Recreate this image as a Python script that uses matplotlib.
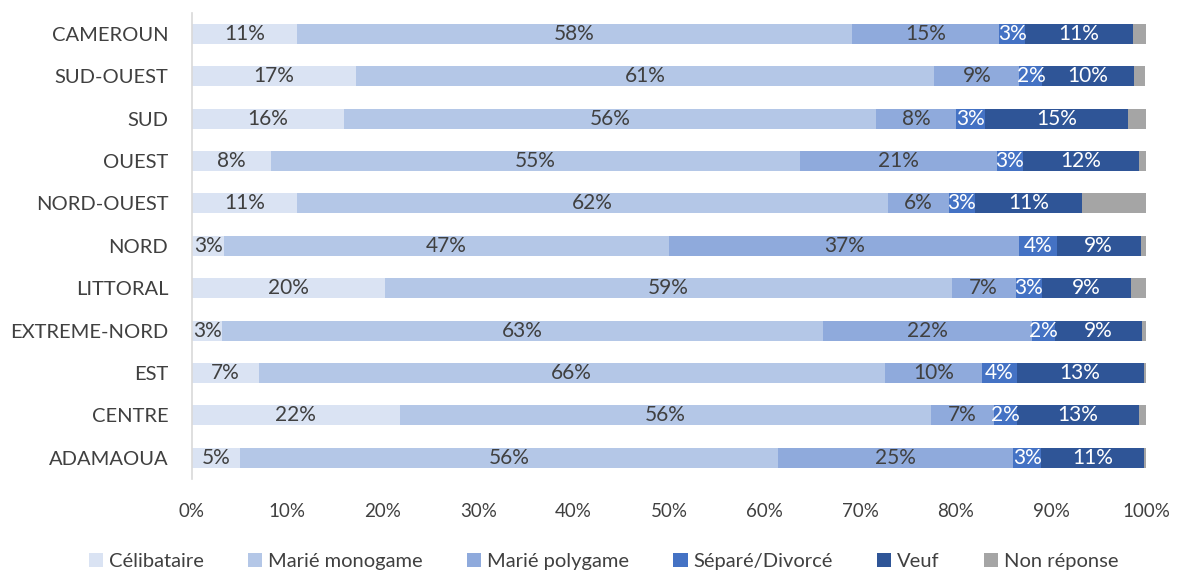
import matplotlib
matplotlib.use("Agg")
import matplotlib.pyplot as plt
import numpy as np

plt.rcParams['font.family'] = ['Lato', 'DejaVu Sans']

categories = ["CAMEROUN", "SUD-OUEST", "SUD", "OUEST", "NORD-OUEST", "NORD",
              "LITTORAL", "EXTREME-NORD", "EST", "CENTRE", "ADAMAOUA"]
series_names = ["Célibataire", "Marié monogame", "Marié polygame",
                "Séparé/Divorcé", "Veuf", "Non réponse"]
celibataire = [11.0, 17.2, 15.9, 8.3, 11.0, 3.4, 20.2, 3.2, 7.0, 21.8, 5.0]
monogame    = [58.2, 60.6, 55.8, 55.4, 61.9, 46.6, 59.4, 62.9, 65.6, 55.6, 56.4]
polygame    = [15.4, 8.9, 8.4, 20.6, 6.4, 36.7, 6.7, 21.9, 10.2, 6.6, 24.6]
separe      = [2.7, 2.4, 3.0, 2.8, 2.7, 3.9, 2.8, 2.4, 3.6, 2.4, 3.0]
veuf        = [11.3, 9.6, 15.0, 12.1, 11.3, 8.8, 9.3, 9.1, 13.3, 12.8, 10.8]
non_reponse = [1.4, 1.2, 1.9, 0.8, 6.7, 0.6, 1.6, 0.5, 0.3, 0.8, 0.2]
xtick_labels = ["0%", "10%", "20%", "30%", "40%", "50%", "60%", "70%", "80%", "90%", "100%"]

series = [celibataire, monogame, polygame, separe, veuf, non_reponse]
colors = ["#DAE3F3", "#B4C7E7", "#8FAADC", "#4472C4", "#2F5597", "#A5A5A5"]
label_colors = ["#404040", "#404040", "#404040", "white", "white", None]

fig = plt.figure(figsize=(11.77, 5.74), dpi=100)
ax = fig.add_axes([0.163, 0.1655, 0.811, 0.8125])

y = np.arange(len(categories))
left = np.zeros(len(categories))
for vals, name, col, lc in zip(series, series_names, colors, label_colors):
    vals = np.array(vals)
    ax.barh(y, vals, left=left, height=0.47, color=col, label=name)
    if lc is not None:
        for yi, l, v in zip(y, left, vals):
            ax.text(l + v / 2, yi, f"{v:.0f}%", ha="center", va="center",
                    color=lc, fontsize=15)
    left += vals

ax.set_xlim(0, 100)
ax.set_ylim(len(categories) - 0.5, -0.5)
ax.set_yticks(y)
ax.set_yticklabels(categories, fontsize=14.5, color="#404040")
ax.set_xticks(np.arange(0, 101, 10))
ax.set_xticklabels(xtick_labels, fontsize=13.5, color="#404040")
ax.tick_params(axis="y", length=0, pad=17)
ax.tick_params(axis="x", length=0, pad=17)
for s in ["top", "right", "bottom"]:
    ax.spines[s].set_visible(False)
ax.spines["left"].set_color("#D9D9D9")
ax.spines["left"].set_linewidth(1.2)

fig.legend(loc="center", bbox_to_anchor=(0.513, 0.021), ncol=6, frameon=False,
           fontsize=14.5, handlelength=0.7, handleheight=0.7, handletextpad=0.3,
           columnspacing=2.2, labelcolor="#404040")

fig.savefig("out.png", dpi=100)
